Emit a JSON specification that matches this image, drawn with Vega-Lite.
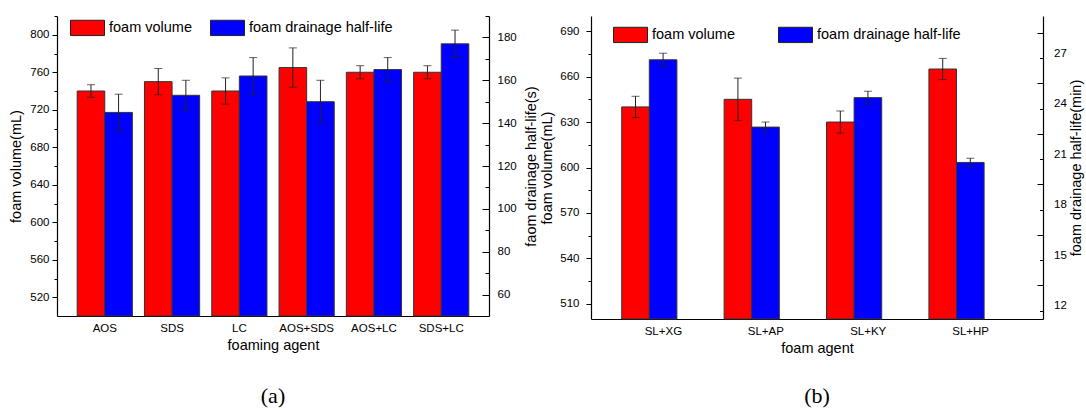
{
  "$schema": "https://vega.github.io/schema/vega-lite/v6.json",
  "background": "white",
  "padding": {"left": 8, "top": 10, "right": 2, "bottom": 2},
  "bounds": "flush",
  "spacing": 102,
  "datasets": {
    "a": [
      {"agent": "AOS", "series": "foam volume", "value": 740, "low": 733.3, "high": 746.7},
      {"agent": "AOS", "series": "foam drainage half-life", "value": 145, "low": 136.5, "high": 153.5},
      {"agent": "SDS", "series": "foam volume", "value": 750, "low": 736, "high": 764},
      {"agent": "SDS", "series": "foam drainage half-life", "value": 153, "low": 146, "high": 160},
      {"agent": "LC", "series": "foam volume", "value": 740, "low": 726, "high": 754},
      {"agent": "LC", "series": "foam drainage half-life", "value": 162, "low": 153.4, "high": 170.6},
      {"agent": "AOS+SDS", "series": "foam volume", "value": 765, "low": 744, "high": 786},
      {"agent": "AOS+SDS", "series": "foam drainage half-life", "value": 150, "low": 140, "high": 160},
      {"agent": "AOS+LC", "series": "foam volume", "value": 760, "low": 753, "high": 767},
      {"agent": "AOS+LC", "series": "foam drainage half-life", "value": 165, "low": 159.4, "high": 170.6},
      {"agent": "SDS+LC", "series": "foam volume", "value": 760, "low": 753, "high": 767},
      {"agent": "SDS+LC", "series": "foam drainage half-life", "value": 177, "low": 170.6, "high": 183.4}
    ],
    "b": [
      {"agent": "SL+XG", "series": "foam volume", "value": 640, "low": 633, "high": 647},
      {"agent": "SL+XG", "series": "foam drainage half-life", "value": 26.9, "low": 26.51, "high": 27.29},
      {"agent": "SL+AP", "series": "foam volume", "value": 645, "low": 631, "high": 659},
      {"agent": "SL+AP", "series": "foam drainage half-life", "value": 22.9, "low": 22.6, "high": 23.2},
      {"agent": "SL+KY", "series": "foam volume", "value": 630, "low": 622.7, "high": 637.3},
      {"agent": "SL+KY", "series": "foam drainage half-life", "value": 24.65, "low": 24.27, "high": 25.03},
      {"agent": "SL+HP", "series": "foam volume", "value": 665, "low": 658, "high": 672},
      {"agent": "SL+HP", "series": "foam drainage half-life", "value": 20.8, "low": 20.55, "high": 21.05}
    ]
  },
  "hconcat": [
    {
      "width": 432,
      "height": 300,
      "data": {"name": "a"},
      "title": {"text": "(a)", "orient": "bottom", "anchor": "middle", "font": "Liberation Serif", "fontSize": 22, "fontWeight": "normal", "color": "black", "offset": 34},
      "encoding": {
        "x": {"field": "agent", "type": "nominal", "sort": ["AOS", "SDS", "LC", "AOS+SDS", "AOS+LC", "SDS+LC"],
          "scale": {"paddingInner": 0.18, "paddingOuter": 0.3},
          "axis": {"title": "foaming agent", "labelAngle": 0, "ticks": false, "labelPadding": 6, "titlePadding": 5}},
        "xOffset": {"field": "series", "type": "nominal", "sort": ["foam volume", "foam drainage half-life"], "scale": {"paddingInner": 0, "paddingOuter": 0}}
      },
      "layer": [
        {
          "transform": [{"filter": "datum.series == 'foam volume'"}],
          "mark": {"type": "bar", "stroke": "#333333", "strokeWidth": 1},
          "encoding": {
            "y": {"field": "value", "type": "quantitative", "scale": {"domain": [500, 820], "nice": false, "zero": false},
              "axis": {"orient": "left", "title": "foam volume(mL)", "values": [520, 540, 560, 580, 600, 620, 640, 660, 680, 700, 720, 740, 760, 780, 800, 820],
                "labelExpr": "datum.value % 40 == 0 ? datum.label : ''",
                "tickSize": {"condition": {"test": "datum.value % 40 == 0", "value": 5}, "value": 3},
                "labelPadding": 3, "titlePadding": 6}},
            "y2": {"datum": 500},
            "color": {"field": "series", "type": "nominal", "scale": {"domain": ["foam volume", "foam drainage half-life"], "range": ["#FF0000", "#0000FF"]},
              "legend": {"title": null, "orient": "none", "direction": "horizontal", "legendX": 13, "legendY": -6, "columnPadding": 15}}
          }
        },
        {
          "transform": [{"filter": "datum.series == 'foam volume'"}],
          "mark": {"type": "rule", "color": "#222222", "strokeWidth": 1},
          "encoding": {
            "y": {"field": "low", "type": "quantitative", "scale": {"domain": [500, 820], "nice": false, "zero": false}, "axis": null},
            "y2": {"field": "high"}
          }
        },
        {
          "transform": [{"filter": "datum.series == 'foam volume'"}],
          "mark": {"type": "tick", "color": "#222222", "thickness": 1, "size": 8},
          "encoding": {"y": {"field": "low", "type": "quantitative", "scale": {"domain": [500, 820], "nice": false, "zero": false}, "axis": null}}
        },
        {
          "transform": [{"filter": "datum.series == 'foam volume'"}],
          "mark": {"type": "tick", "color": "#222222", "thickness": 1, "size": 8},
          "encoding": {"y": {"field": "high", "type": "quantitative", "scale": {"domain": [500, 820], "nice": false, "zero": false}, "axis": null}}
        },
        {
          "transform": [{"filter": "datum.series == 'foam drainage half-life'"}],
          "mark": {"type": "bar", "stroke": "#333333", "strokeWidth": 1},
          "encoding": {
            "y": {"field": "value", "type": "quantitative", "scale": {"domain": [50, 190], "nice": false, "zero": false},
              "axis": {"orient": "right", "title": "faom drainage half-life(s)", "titleAngle": 270, "titleBaseline": "top", "values": [60, 70, 80, 90, 100, 110, 120, 130, 140, 150, 160, 170, 180, 190],
                "labelExpr": "datum.value % 20 == 0 ? datum.label : ''",
                "tickSize": {"condition": {"test": "datum.value % 20 == 0", "value": -7}, "value": -4},
                "labelPadding": 15, "titlePadding": 8}},
            "y2": {"datum": 50},
            "color": {"field": "series", "type": "nominal", "scale": {"domain": ["foam volume", "foam drainage half-life"], "range": ["#FF0000", "#0000FF"]},
              "legend": {"title": null, "orient": "none", "direction": "horizontal", "legendX": 13, "legendY": -6, "columnPadding": 15}}
          }
        },
        {
          "transform": [{"filter": "datum.series == 'foam drainage half-life'"}],
          "mark": {"type": "rule", "color": "#222222", "strokeWidth": 1},
          "encoding": {
            "y": {"field": "low", "type": "quantitative", "scale": {"domain": [50, 190], "nice": false, "zero": false}, "axis": null},
            "y2": {"field": "high"}
          }
        },
        {
          "transform": [{"filter": "datum.series == 'foam drainage half-life'"}],
          "mark": {"type": "tick", "color": "#222222", "thickness": 1, "size": 8},
          "encoding": {"y": {"field": "low", "type": "quantitative", "scale": {"domain": [50, 190], "nice": false, "zero": false}, "axis": null}}
        },
        {
          "transform": [{"filter": "datum.series == 'foam drainage half-life'"}],
          "mark": {"type": "tick", "color": "#222222", "thickness": 1, "size": 8},
          "encoding": {"y": {"field": "high", "type": "quantitative", "scale": {"domain": [50, 190], "nice": false, "zero": false}, "axis": null}}
        }
      ],
      "resolve": {"scale": {"y": "independent"}}
    },
    {
      "width": 452,
      "height": 303,
      "data": {"name": "b"},
      "title": {"text": "(b)", "orient": "bottom", "anchor": "middle", "font": "Liberation Serif", "fontSize": 22, "fontWeight": "normal", "color": "black", "offset": 31},
      "encoding": {
        "x": {"field": "agent", "type": "nominal", "sort": ["SL+XG", "SL+AP", "SL+KY", "SL+HP"],
          "scale": {"paddingInner": 0.186, "paddingOuter": 0.3},
          "axis": {"title": "foam agent", "labelAngle": 0, "ticks": false, "labelPadding": 6, "titlePadding": 5}},
        "xOffset": {"field": "series", "type": "nominal", "sort": ["foam volume", "foam drainage half-life"], "scale": {"paddingInner": 0, "paddingOuter": 0}}
      },
      "layer": [
        {
          "transform": [{"filter": "datum.series == 'foam volume'"}],
          "mark": {"type": "bar", "stroke": "#333333", "strokeWidth": 1},
          "encoding": {
            "y": {"field": "value", "type": "quantitative", "scale": {"domain": [500, 700], "nice": false, "zero": false},
              "axis": {"orient": "left", "title": "foam volume(mL)", "values": [510, 525, 540, 555, 570, 585, 600, 615, 630, 645, 660, 675, 690],
                "labelExpr": "(datum.value - 510) % 30 == 0 ? datum.label : ''",
                "tickSize": {"condition": {"test": "(datum.value - 510) % 30 == 0", "value": 5}, "value": 3},
                "labelPadding": 7, "titlePadding": 5}},
            "y2": {"datum": 500},
            "color": {"field": "series", "type": "nominal", "scale": {"domain": ["foam volume", "foam drainage half-life"], "range": ["#FF0000", "#0000FF"]},
              "legend": {"title": null, "orient": "none", "direction": "horizontal", "legendX": 22, "legendY": 1, "columnPadding": 40}}
          }
        },
        {
          "transform": [{"filter": "datum.series == 'foam volume'"}],
          "mark": {"type": "rule", "color": "#222222", "strokeWidth": 1},
          "encoding": {
            "y": {"field": "low", "type": "quantitative", "scale": {"domain": [500, 700], "nice": false, "zero": false}, "axis": null},
            "y2": {"field": "high"}
          }
        },
        {
          "transform": [{"filter": "datum.series == 'foam volume'"}],
          "mark": {"type": "tick", "color": "#222222", "thickness": 1, "size": 8},
          "encoding": {"y": {"field": "low", "type": "quantitative", "scale": {"domain": [500, 700], "nice": false, "zero": false}, "axis": null}}
        },
        {
          "transform": [{"filter": "datum.series == 'foam volume'"}],
          "mark": {"type": "tick", "color": "#222222", "thickness": 1, "size": 8},
          "encoding": {"y": {"field": "high", "type": "quantitative", "scale": {"domain": [500, 700], "nice": false, "zero": false}, "axis": null}}
        },
        {
          "transform": [{"filter": "datum.series == 'foam drainage half-life'"}],
          "mark": {"type": "bar", "stroke": "#333333", "strokeWidth": 1},
          "encoding": {
            "y": {"field": "value", "type": "quantitative", "scale": {"domain": [11.5, 29.5], "nice": false, "zero": false},
              "axis": {"orient": "right", "title": "foam drainage half-life(min)", "titleAngle": 270, "titleBaseline": "top", "values": [12, 13.5, 15, 16.5, 18, 19.5, 21, 22.5, 24, 25.5, 27, 28.5],
                "labelExpr": "(datum.value - 12) % 3 == 0 ? datum.label : ''",
                "tickSize": {"condition": {"test": "(datum.value - 12) % 3 == 0", "value": -3.5}, "value": -6},
                "labelOffset": -5,
                "labelPadding": 14, "titlePadding": 3}},
            "y2": {"datum": 11.5},
            "color": {"field": "series", "type": "nominal", "scale": {"domain": ["foam volume", "foam drainage half-life"], "range": ["#FF0000", "#0000FF"]},
              "legend": {"title": null, "orient": "none", "direction": "horizontal", "legendX": 22, "legendY": 1, "columnPadding": 40}}
          }
        },
        {
          "transform": [{"filter": "datum.series == 'foam drainage half-life'"}],
          "mark": {"type": "rule", "color": "#222222", "strokeWidth": 1},
          "encoding": {
            "y": {"field": "low", "type": "quantitative", "scale": {"domain": [11.5, 29.5], "nice": false, "zero": false}, "axis": null},
            "y2": {"field": "high"}
          }
        },
        {
          "transform": [{"filter": "datum.series == 'foam drainage half-life'"}],
          "mark": {"type": "tick", "color": "#222222", "thickness": 1, "size": 8},
          "encoding": {"y": {"field": "low", "type": "quantitative", "scale": {"domain": [11.5, 29.5], "nice": false, "zero": false}, "axis": null}}
        },
        {
          "transform": [{"filter": "datum.series == 'foam drainage half-life'"}],
          "mark": {"type": "tick", "color": "#222222", "thickness": 1, "size": 8},
          "encoding": {"y": {"field": "high", "type": "quantitative", "scale": {"domain": [11.5, 29.5], "nice": false, "zero": false}, "axis": null}}
        }
      ],
      "resolve": {"scale": {"y": "independent"}}
    }
  ],
  "resolve": {"legend": {"color": "independent"}, "scale": {"color": "independent"}},
  "config": {
    "font": "Liberation Sans",
    "view": {"stroke": null},
    "axis": {"domainColor": "black", "domainWidth": 1.2, "tickColor": "black", "tickWidth": 1, "labelColor": "black", "titleColor": "black",
      "labelFont": "Liberation Sans", "titleFont": "Liberation Sans", "labelFontSize": 11.5, "titleFontSize": 14.5, "titleFontWeight": "normal", "grid": false},
    "legend": {"symbolType": "M-1,-0.45L1,-0.45L1,0.45L-1,0.45Z", "symbolSize": 1156, "symbolStrokeColor": "#222222", "symbolStrokeWidth": 1,
      "labelFont": "Liberation Sans", "labelFontSize": 14.5, "labelColor": "black", "labelOffset": 4, "padding": 0, "labelLimit": 300}
  }
}
